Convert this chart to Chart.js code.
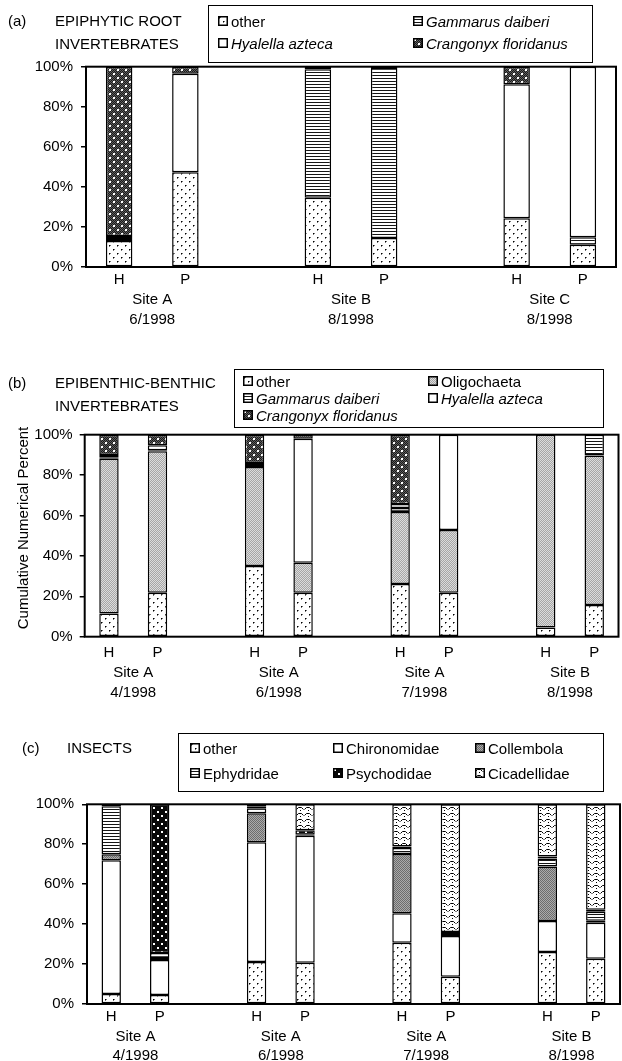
<!DOCTYPE html>
<html><head><meta charset="utf-8">
<script src="https://cdn.jsdelivr.net/npm/chart.js"></script>
<style>
html,body{margin:0;padding:0;background:#fff;}
body{width:622px;height:1061px;position:relative;overflow:hidden;font-family:'Liberation Sans',Arial,Helvetica,sans-serif;color:#000;}
.t{position:absolute;font-size:15px;line-height:15px;white-space:nowrap;transform:translateY(-50%);z-index:3;}
.lg{position:absolute;border:1.5px solid #000;background:#fff;box-sizing:border-box;z-index:2;}
.sw{position:absolute;z-index:3;}
canvas.cv{position:absolute;left:0;z-index:1;}
</style></head><body>
<script>
// ---------------- DATA ----------------
// (a) Epiphytic root invertebrates
const aCategories = ['H','P','','H','P','','H','P'];
const aSites = ['Site A','Site B','Site C'];
const aDates = ['6/1998','8/1998','8/1998'];
const aOther     = [13,   47.3, null, 34.6, 14.5, null, 24.3, 11.1];
const aGammarus  = [1,    0,    null, 64.1, 84.8, null, 0,    3.7];
const aHyalella  = [1.5,  49.2, null, 0,    0,    null, 66.9, 85.2];
const aCrangonyx = [84.5, 3.5,  null, 1.3,  0.7,  null, 8.8,  0];

// (b) Epibenthic-benthic invertebrates
const bCategories = ['H','P','','H','P','','H','P','','H','P'];
const bSites = ['Site A','Site A','Site A','Site B'];
const bDates = ['4/1998','6/1998','7/1998','8/1998'];
const bOther       = [11.5, 21.8, null, 35,   21.8, null, 26.1, 21.8, null, 4.6,  15.7];
const bOligochaeta = [76.6, 70,   null, 49,   14.8, null, 35.6, 31,   null, 95.4, 74];
const bGammarus    = [0.5,  0.5,  null, 1.5,  0,    null, 2,    0,    null, 0,    10.3];
const bHyalella    = [1.3,  2.5,  null, 0.5,  61.4, null, 2,    47.2, null, 0,    0];
const bCrangonyx   = [10.1, 5.2,  null, 14,   2,    null, 34.3, 0,    null, 0,    0];

// (c) Insects
const cCategories = ['H','P','','H','P','','H','P','','H','P'];
const cSites = ['Site A','Site A','Site A','Site B'];
const cDates = ['4/1998','6/1998','7/1998','8/1998'];
const cOther        = [5,  4.5,  null, 21,   20.7, null, 30.7, 13.7, null, 26,   22.7];
const cChironomidae = [67, 17.5, null, 60,   63.5, null, 14.7, 20.4, null, 15.6, 18];
const cCollembola   = [3,  1,    null, 14.5, 0,    null, 29.7, 0,    null, 27.2, 1];
const cEphydridae   = [24, 2.5,  null, 2.5,  0.5,  null, 3,    0.5,  null, 4,    4.5];
const cPsychodidae  = [0,  74.5, null, 1,    2.3,  null, 0.8,  1.5,  null, 1,    1];
const cCicadellidae = [1,  0,    null, 1,    13,   null, 21.1, 63.9, null, 26.2, 52.8];

const yTickStep = 20;
const yAxisTitleB = 'Cumulative Numerical Percent';

// ---------------- PATTERNS ----------------
function tile(w,h,fn){const c=document.createElement('canvas');c.width=w;c.height=h;const x=c.getContext('2d');fn(x);return c;}
const TILES = {
  white: tile(4,4,x=>{x.fillStyle='#fff';x.fillRect(0,0,4,4);}),
  dots: tile(8,8,x=>{x.fillStyle='#fff';x.fillRect(0,0,8,8);x.fillStyle='#000';x.fillRect(1,1,1,1);x.fillRect(5,5,1,1);x.fillStyle='#777';x.fillRect(2,1,1,1);x.fillRect(6,5,1,1);x.fillRect(1,2,1,1);x.fillRect(5,6,1,1);}),
  hstripes: tile(4,3,x=>{x.fillStyle='#fff';x.fillRect(0,0,4,3);x.fillStyle='#151515';x.fillRect(0,0,4,1);}),
  darkdots: tile(8,8,x=>{x.fillStyle='#1a1a1a';x.fillRect(0,0,8,8);x.fillStyle='#5e5e5e';for(let i=0;i<8;i++)for(let j=0;j<8;j++)if((i+j)%2===0)x.fillRect(i,j,1,1);x.fillStyle='#fff';x.fillRect(1,1,2,2);x.fillRect(5,5,2,2);}),
  blackdots: tile(8,8,x=>{x.fillStyle='#080808';x.fillRect(0,0,8,8);x.fillStyle='#fff';x.fillRect(1,1,2,2);x.fillRect(5,5,2,2);}),
  lightgrey: tile(2,2,x=>{x.fillStyle='#dcdcdc';x.fillRect(0,0,2,2);x.fillStyle='#a6a6a6';x.fillRect(0,0,1,1);x.fillRect(1,1,1,1);}),
  midgrey: tile(2,2,x=>{x.fillStyle='#aaaaaa';x.fillRect(0,0,2,2);x.fillStyle='#6c6c6c';x.fillRect(0,0,1,1);x.fillRect(1,1,1,1);}),
  arcs: tile(8,6,x=>{x.fillStyle='#fff';x.fillRect(0,0,8,6);x.strokeStyle='#000';x.lineWidth=1;x.beginPath();x.moveTo(0.5,3.5);x.lineTo(2.5,1.5);x.lineTo(5.5,1.5);x.lineTo(7.5,3.5);x.stroke();x.fillStyle='#000';x.fillRect(4,4,1,1);})
};

Chart.defaults.font.family = "'Liberation Sans', Arial, Helvetica, sans-serif";
Chart.defaults.font.size = 15;
Chart.defaults.color = '#000';

const FONT = "15px 'Liberation Sans', Arial, Helvetica, sans-serif";

const panelDecor = {
  id: 'panelDecor',
  afterDatasetsDraw(chart){
    const {ctx, chartArea:a} = chart;
    ctx.save();
    ctx.strokeStyle = '#000'; ctx.lineWidth = 2;
    ctx.strokeRect(a.left, a.top, a.right - a.left, a.bottom - a.top);
    ctx.restore();
  },
  afterDraw(chart, args, o){
    const {ctx} = chart; const x = chart.scales.x;
    ctx.save();
    ctx.fillStyle = '#000'; ctx.font = FONT; ctx.textAlign = 'center'; ctx.textBaseline = 'alphabetic';
    o.sites.forEach((s, i) => {
      const cx = (x.getPixelForValue(3*i) + x.getPixelForValue(3*i + 1)) / 2;
      ctx.fillText(s, cx, o.siteBase);
      ctx.fillText(o.dates[i], cx, o.dateBase);
    });
    if (o.yTitle) {
      ctx.translate(o.yTitleX, o.yTitleY); ctx.rotate(-Math.PI/2);
      ctx.textBaseline = 'middle'; ctx.fillText(o.yTitle, 0, 0);
    }
    ctx.restore();
  }
};

function addText(txt, x, y, italic){
  const d = document.createElement('div'); d.className = 't'; d.textContent = txt;
  d.style.left = x + 'px'; d.style.top = y + 'px'; if (italic) d.style.fontStyle = 'italic';
  document.body.appendChild(d);
}
function addSwatch(key, x, y){
  const c = document.createElement('canvas'); c.width = 10; c.height = 10; c.className = 'sw';
  c.style.left = x + 'px'; c.style.top = (y - 5) + 'px';
  const g = c.getContext('2d'); g.fillStyle = g.createPattern(TILES[key], 'repeat'); g.fillRect(0,0,10,10);
  g.strokeStyle = '#000'; g.lineWidth = 1.5; g.strokeRect(0.75,0.75,8.5,8.5);
  document.body.appendChild(c);
}
function addLegend(box, cols, rows, items){
  const d = document.createElement('div'); d.className = 'lg';
  d.style.left = box[0]+'px'; d.style.top = box[1]+'px'; d.style.width = (box[2]-box[0])+'px'; d.style.height = (box[3]-box[1])+'px';
  document.body.appendChild(d);
  items.forEach((it, i) => {
    const cx = cols[i % cols.length], cy = rows[Math.floor(i / cols.length)];
    addSwatch(it.tile, cx, cy);
    addText(it.label, cx + 13, cy, it.italic);
  });
}

function makePanel(g){
  const cv = document.createElement('canvas'); cv.className = 'cv';
  cv.width = 622; cv.height = g.h; cv.style.top = g.top + 'px'; cv.style.width = '622px'; cv.style.height = g.h + 'px';
  document.body.appendChild(cv);
  const ctx = cv.getContext('2d');
  const XH = 30;
  const datasets = g.series.map(s => ({
    label: s.label, data: s.data,
    backgroundColor: ctx.createPattern(TILES[s.tile], 'repeat'),
    borderColor: '#000', borderWidth: 1.5, borderSkipped: false,
    barPercentage: 0.4, categoryPercentage: 1
  }));
  new Chart(ctx, {
    type: 'bar',
    data: { labels: g.cats, datasets },
    options: {
      responsive: false, animation: false, devicePixelRatio: 1,
      layout: { padding: { left: 0, right: 622 - g.right, top: g.areaTop - g.top, bottom: g.h - (g.areaBottom - g.top) - XH } },
      plugins: {
        legend: { display: false }, tooltip: { enabled: false },
        panelDecor: {
          sites: g.sites, dates: g.dates, siteBase: g.siteBase - g.top, dateBase: g.dateBase - g.top,
          yTitle: g.yTitle, yTitleX: g.yTitleX, yTitleY: g.yTitleY !== undefined ? g.yTitleY - g.top : 0
        }
      },
      scales: {
        x: {
          stacked: true,
          grid: { display: false, drawTicks: false }, border: { display: false },
          ticks: { font: { size: 15 }, color: '#000', padding: g.xPad, maxRotation: 0, autoSkip: false },
          afterFit(s){ s.height = XH; }
        },
        y: {
          stacked: true, min: 0, max: 100,
          ticks: { stepSize: yTickStep, callback: v => v + '%', font: { size: 15 }, color: '#000', padding: g.yPad },
          grid: { drawOnChartArea: false, drawTicks: true, tickLength: 5, color: '#000', lineWidth: 1.5 },
          border: { display: false },
          afterFit(s){ s.width = g.left; }
        }
      }
    },
    plugins: [panelDecor]
  });
}

// ---------------- PANEL (a) ----------------
addText('(a)', 8, 20); addText('EPIPHYTIC ROOT', 55, 20); addText('INVERTEBRATES', 55, 43);
addLegend([208, 5, 593, 63], [218, 413], [21, 43], [
  {label:'other', tile:'dots'}, {label:'Gammarus daiberi', tile:'hstripes', italic:true},
  {label:'Hyalella azteca', tile:'white', italic:true}, {label:'Crangonyx floridanus', tile:'darkdots', italic:true}
]);
makePanel({
  top: 0, h: 335, left: 86, right: 616, areaTop: 66.7, areaBottom: 267, xPad: 3.7, yPad: 8,
  siteBase: 304, dateBase: 324,
  cats: aCategories, sites: aSites, dates: aDates,
  series: [
    {label:'other', data:aOther, tile:'dots'},
    {label:'Gammarus daiberi', data:aGammarus, tile:'hstripes'},
    {label:'Hyalella azteca', data:aHyalella, tile:'white'},
    {label:'Crangonyx floridanus', data:aCrangonyx, tile:'darkdots'}
  ]
});

// ---------------- PANEL (b) ----------------
addText('(b)', 8, 382); addText('EPIBENTHIC-BENTHIC', 55, 382); addText('INVERTEBRATES', 55, 405);
addLegend([234, 369, 604, 428], [243, 428], [380.7, 397.5, 414.5], [
  {label:'other', tile:'dots'}, {label:'Oligochaeta', tile:'lightgrey'},
  {label:'Gammarus daiberi', tile:'hstripes', italic:true}, {label:'Hyalella azteca', tile:'white', italic:true},
  {label:'Crangonyx floridanus', tile:'darkdots', italic:true}
]);
makePanel({
  top: 345, h: 360, left: 84.7, right: 618.5, areaTop: 434.7, areaBottom: 636.7, xPad: 6.7, yPad: 7,
  siteBase: 676.7, dateBase: 696.7,
  yTitle: yAxisTitleB, yTitleX: 24, yTitleY: 528,
  cats: bCategories, sites: bSites, dates: bDates,
  series: [
    {label:'other', data:bOther, tile:'dots'},
    {label:'Oligochaeta', data:bOligochaeta, tile:'lightgrey'},
    {label:'Gammarus daiberi', data:bGammarus, tile:'hstripes'},
    {label:'Hyalella azteca', data:bHyalella, tile:'white'},
    {label:'Crangonyx floridanus', data:bCrangonyx, tile:'darkdots'}
  ]
});

// ---------------- PANEL (c) ----------------
addText('(c)', 22, 747); addText('INSECTS', 67, 747);
addLegend([178, 733, 604, 792], [190, 333, 475], [748, 773], [
  {label:'other', tile:'dots'}, {label:'Chironomidae', tile:'white'}, {label:'Collembola', tile:'midgrey'},
  {label:'Ephydridae', tile:'hstripes'}, {label:'Psychodidae', tile:'blackdots'}, {label:'Cicadellidae', tile:'arcs'}
]);
makePanel({
  top: 710, h: 351, left: 87, right: 620, areaTop: 804.3, areaBottom: 1004, xPad: 3.4, yPad: 8,
  siteBase: 1040.7, dateBase: 1060,
  cats: cCategories, sites: cSites, dates: cDates,
  series: [
    {label:'other', data:cOther, tile:'dots'},
    {label:'Chironomidae', data:cChironomidae, tile:'white'},
    {label:'Collembola', data:cCollembola, tile:'midgrey'},
    {label:'Ephydridae', data:cEphydridae, tile:'hstripes'},
    {label:'Psychodidae', data:cPsychodidae, tile:'blackdots'},
    {label:'Cicadellidae', data:cCicadellidae, tile:'arcs'}
  ]
});
</script>
</body></html>
